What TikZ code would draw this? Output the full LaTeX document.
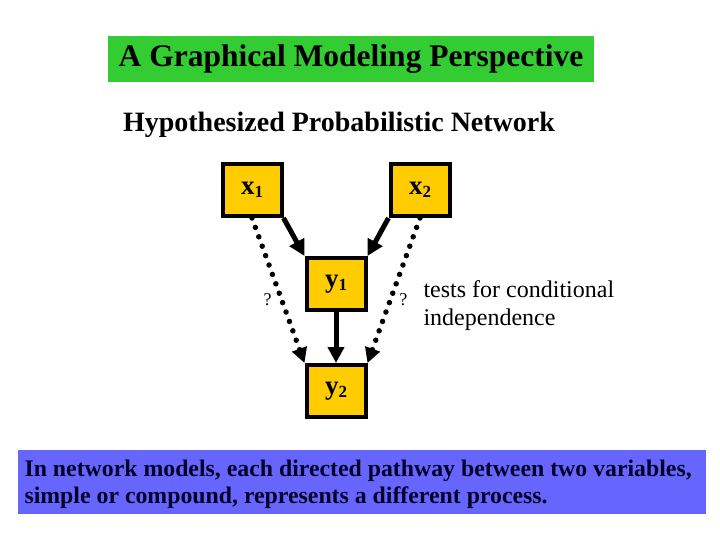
\documentclass[tikz,border=0pt]{standalone}
\usepackage{fontspec}
\setmainfont{Liberation Serif}
\usetikzlibrary{arrows.meta,positioning}
\definecolor{titlegreen}{RGB}{51,204,51}
\definecolor{nodegold}{RGB}{255,204,0}
\definecolor{noteblue}{RGB}{102,102,255}
\definecolor{notetext}{RGB}{0,0,40}
\newcommand{\varlabel}[2]{\raisebox{-5pt}{#1\fontsize{17}{18}\selectfont\raisebox{-3pt}{#2}}}

\begin{document}
\begin{tikzpicture}[
    x=1pt, y=-1pt,
    var/.style={rectangle, draw=black, line width=4pt, fill=nodegold, minimum width=59pt, minimum height=52pt, inner sep=0pt, font=\fontsize{27}{30}\selectfont\bfseries},
    causal/.style={line width=5pt, -{Triangle[length=16pt,width=16pt]}},
    test/.style={line width=5.5pt, line cap=round, dash pattern=on 0pt off 10pt, -{Triangle[length=15pt,width=15pt]}},
    qmark/.style={font=\fontsize{18}{20}\selectfont, inner sep=1pt}
]
\useasboundingbox (0,0) rectangle (720,540);

% --- header ---
\node[fill=titlegreen, minimum width=486pt, minimum height=46pt, inner sep=0pt, font=\fontsize{31.5}{34}\selectfont\bfseries] (title) at (351,59) {A Graphical Modeling Perspective};
\node[font=\fontsize{28}{30}\selectfont\bfseries] (subtitle) at (339,125) {Hypothesized Probabilistic Network};

% --- network ---
\node[var] (x1) at (252,190) {\varlabel{x}{1}};
\node[var] (x2) at (420,190) {\varlabel{x}{2}};
\node[var] (y1) at (336,284) {\varlabel{y}{1}};
\node[var] (y2) at (336,391) {\varlabel{y}{2}};

\draw[causal] (x1.south east) -- (y1.north west);
\draw[causal] (x2.south west) -- (y1.north east);
\draw[causal] (y1) -- (y2);

\draw[test] (x1.south) -- node[qmark, pos=0.56, left=6pt] (q1) {?} (y2.north west);
\draw[test] (x2.south) -- node[qmark, pos=0.56, right=5pt] (q2) {?} (y2.north east);

\node[font=\fontsize{24}{28}\selectfont, align=left, anchor=west] (tests) at (420,306) {tests for conditional\\independence};

% --- footer note ---
\node[fill=noteblue, minimum width=688pt, minimum height=64pt, inner sep=0pt] (notebox) at (362,482) {};
\node[font=\fontsize{23.8}{27}\selectfont\bfseries, text=notetext, align=left, anchor=west] (note) at (21,484) {In network models, each directed pathway between two variables,\\simple or compound, represents a different process.};

\end{tikzpicture}
\end{document}
